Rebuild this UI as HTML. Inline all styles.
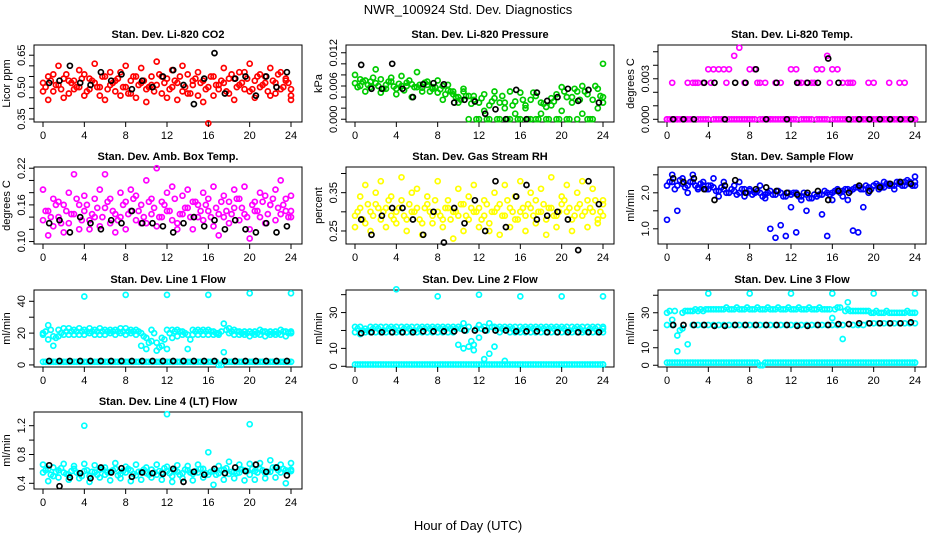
<!DOCTYPE html>
<html><head><meta charset="utf-8"><style>
html,body{margin:0;padding:0;background:#fff;}
svg{display:block;font-family:"Liberation Sans",sans-serif;}
</style></head><body>
<svg id="chart" width="936" height="540" xmlns="http://www.w3.org/2000/svg">
<text x="468" y="14" text-anchor="middle" font-size="13">NWR_100924 Std. Dev. Diagnostics</text>
<text x="468" y="530" text-anchor="middle" font-size="13">Hour of Day (UTC)</text>
</svg>
<script>
const xTicks=[0,4,8,12,16,20,24];
const co2A=[0.52,0.55,0.48,0.51,0.54,0.47,0.53,0.50,0.56,0.49,0.52,0.46,0.55,0.51,0.48,0.57,0.50,0.53,0.45,0.52,0.49,0.55,0.51,0.47,0.54,0.50,0.52,0.48,0.56,0.51,0.46,0.53,0.50,0.55,0.49,0.52,0.47,0.54,0.51,0.57,0.48,0.53,0.50,0.55,0.46,0.52,0.49,0.54,0.44];
const co2B=[0.48,0.44,0.56,0.60,0.45,0.53,0.49,0.58,0.46,0.54,0.61,0.50,0.44,0.57,0.53,0.46,0.60,0.47,0.55,0.59,0.43,0.51,0.62,0.55,0.45,0.58,0.44,0.60,0.47,0.53,0.57,0.43,0.33,0.46,0.51,0.59,0.54,0.44,0.57,0.49,0.61,0.45,0.56,0.52,0.59,0.47,0.57,0.53,0.46];
const co2C=[0.50,0.53,0.51,0.49,0.56,0.52,0.50,0.54,0.48,0.53,0.50,0.55,0.49,0.52,0.54,0.50,0.47,0.55,0.51,0.53,0.50,0.48,0.56,0.52,0.49,0.53,0.55,0.50,0.47,0.54,0.52,0.49,0.55,0.51,0.53,0.48,0.56,0.50,0.52,0.54,0.49,0.55,0.51,0.48,0.53,0.56,0.50,0.52,0.49];
const co2K=[0.52,0.53,0.60,0.52,0.51,0.57,0.53,0.56,0.49,0.53,0.50,0.55,0.58,0.51,0.42,0.54,0.66,0.47,0.54,0.55,0.46,0.55,0.50,0.57];
const prA=[0.0065,0.0060,0.0070,0.0058,0.0065,0.0072,0.0062,0.0068,0.0055,0.0060,0.0066,0.0063,0.0058,0.0057,0.0062,0.0055,0.0048,0.0060,0.0052,0.0045,0.0040,0.0050,0.0042,0.0035,0.0030,0.0045,0.0025,0.0038,0.0030,0.0020,0.0050,0.0032,0.0048,0.0025,0.0035,0.0042,0.0030,0.0022,0.0038,0.0045,0.0058,0.0040,0.0030,0.0050,0.0060,0.0045,0.0035,0.0055,0.0040];
const prB=[0.0080,0.0072,0.0050,0.0068,0.0090,0.0048,0.0055,0.0075,0.0045,0.0078,0.0060,0.0040,0.0085,0.0050,0.0068,0.0058,0.0070,0.0035,0.0062,0.0050,0.0030,0.0055,0.0000,0.0042,0.0000,0.0015,0.0000,0.0050,0.0000,0.0030,0.0000,0.0010,0.0000,0.0020,0.0000,0.0000,0.0010,0.0000,0.0025,0.0000,0.0015,0.0000,0.0040,0.0000,0.0010,0.0000,0.0000,0.0020,0.0100];
const prC=[0.0058,0.0068,0.0062,0.0075,0.0060,0.0055,0.0068,0.0059,0.0064,0.0052,0.0070,0.0058,0.0062,0.0066,0.0050,0.0058,0.0054,0.0045,0.0050,0.0040,0.0035,0.0042,0.0028,0.0000,0.0038,0.0000,0.0032,0.0000,0.0042,0.0000,0.0025,0.0000,0.0035,0.0000,0.0048,0.0000,0.0028,0.0000,0.0032,0.0000,0.0050,0.0000,0.0055,0.0035,0.0050,0.0000,0.0060,0.0042,0.0030];
const prK=[0.0098,0.0055,0.0055,0.0100,0.0055,0.0040,0.0063,0.0065,0.0063,0.0030,0.0035,0.0032,0.0010,0.0018,0.0000,0.0053,0.0000,0.0048,0.0033,0.0040,0.0055,0.0033,0.0053,0.0030];
const tmA=[0,0,0,0,0,0,0,0,0,0,0,0,0,0,0,0,0,0,0,0,0,0,0,0,0,0,0,0,0,0,0,0,0,0,0,0,0,0,0,0,0,0,0,0,0,0,0,0,0];
const tmB=[0,0.0027,0,0,0.0027,0.0027,0.0027,0.0027,0.0037,0.0037,0.0037,0.0037,0.0037,0.0047,0.0053,0.0027,0.0037,0.0037,0.0027,0.0027,0,0.0027,0.0027,0,0.0037,0.0037,0.0027,0.0027,0.0027,0.0037,0.0037,0.0047,0.0037,0.0037,0.0027,0.0027,0.0027,0,0,0.0027,0.0027,0,0,0.0027,0,0.0027,0.0027,0,0];
const tmC=[0,0,0,0,0,0.0027,0,0,0.0027,0,0,0.0027,0,0,0,0,0,0.0027,0,0,0,0,0,0,0,0.0027,0,0,0.0027,0,0,0.0027,0,0,0,0.0027,0,0,0,0,0,0,0,0,0,0,0,0,0];
const tmK=[0,0,0,0.0027,0.0027,0,0.0027,0.0027,0.0037,0,0.0027,0,0.0027,0.0027,0.0027,0.0045,0.0027,0,0,0,0,0,0,0];
const btA=[0.135,0.15,0.125,0.14,0.16,0.13,0.145,0.12,0.15,0.135,0.14,0.125,0.155,0.13,0.145,0.14,0.12,0.15,0.135,0.16,0.13,0.145,0.125,0.14,0.15,0.135,0.13,0.145,0.155,0.12,0.14,0.135,0.15,0.125,0.145,0.14,0.13,0.155,0.135,0.145,0.12,0.15,0.14,0.13,0.16,0.135,0.145,0.15,0.14];
const btB=[0.185,0.11,0.17,0.165,0.115,0.18,0.21,0.16,0.175,0.12,0.17,0.185,0.21,0.17,0.115,0.18,0.165,0.185,0.175,0.13,0.20,0.17,0.22,0.165,0.18,0.19,0.12,0.175,0.185,0.165,0.16,0.18,0.17,0.19,0.11,0.175,0.165,0.185,0.17,0.19,0.105,0.165,0.18,0.175,0.16,0.185,0.2,0.17,0.175];
const btC=[0.15,0.14,0.16,0.13,0.15,0.145,0.17,0.135,0.16,0.145,0.155,0.14,0.165,0.15,0.135,0.16,0.145,0.17,0.15,0.14,0.165,0.155,0.14,0.16,0.15,0.17,0.145,0.155,0.14,0.165,0.15,0.16,0.14,0.155,0.165,0.15,0.145,0.17,0.155,0.14,0.16,0.15,0.165,0.145,0.17,0.155,0.16,0.14,0.15];
const btK=[0.13,0.135,0.115,0.14,0.13,0.12,0.135,0.13,0.15,0.13,0.13,0.125,0.115,0.13,0.14,0.125,0.135,0.12,0.135,0.12,0.115,0.13,0.115,0.125];
const rhA=[0.29,0.31,0.27,0.30,0.32,0.28,0.31,0.29,0.30,0.33,0.28,0.30,0.31,0.27,0.32,0.29,0.30,0.28,0.31,0.30,0.29,0.32,0.28,0.30,0.31,0.29,0.27,0.30,0.32,0.29,0.31,0.28,0.30,0.29,0.31,0.33,0.30,0.28,0.31,0.29,0.32,0.30,0.28,0.31,0.29,0.33,0.30,0.28,0.32];
const rhB=[0.26,0.34,0.37,0.25,0.35,0.38,0.26,0.34,0.27,0.39,0.25,0.35,0.36,0.24,0.34,0.27,0.38,0.26,0.33,0.23,0.36,0.25,0.34,0.37,0.26,0.33,0.25,0.35,0.24,0.37,0.26,0.34,0.38,0.25,0.35,0.27,0.36,0.24,0.39,0.26,0.34,0.37,0.25,0.35,0.38,0.26,0.36,0.27,0.33];
const rhC=[0.30,0.28,0.32,0.29,0.31,0.30,0.33,0.28,0.31,0.29,0.32,0.30,0.28,0.31,0.30,0.33,0.29,0.31,0.28,0.30,0.32,0.29,0.31,0.30,0.28,0.32,0.30,0.31,0.29,0.33,0.30,0.28,0.31,0.32,0.29,0.30,0.32,0.31,0.29,0.30,0.33,0.31,0.29,0.32,0.30,0.31,0.33,0.30,0.29];
const rhK=[0.28,0.24,0.29,0.31,0.31,0.28,0.24,0.30,0.22,0.31,0.27,0.33,0.25,0.38,0.26,0.34,0.37,0.28,0.29,0.30,0.28,0.20,0.38,0.32];
const sfA=[2.2,2.3,2.2,2.25,2.2,2.3,2.15,2.2,2.1,2.15,2.05,2.1,2.0,2.05,2.0,2.1,2.05,2.0,2.0,1.95,2.05,1.95,2.0,1.9,1.95,2.0,1.9,1.95,1.85,1.9,1.95,2.0,2.0,2.05,2.05,2.1,2.1,2.15,2.1,2.15,2.2,2.2,2.15,2.25,2.2,2.25,2.3,2.25,2.2];
const sfB=[1.25,2.5,1.5,2.4,2.0,2.5,2.1,2.3,2.2,2.4,1.9,2.3,2.0,2.2,2.3,1.9,2.1,2.0,2.2,1.85,1.0,0.75,1.1,0.8,1.6,0.9,1.8,1.5,1.85,1.9,1.4,0.8,1.8,2.1,1.9,1.8,0.95,0.9,1.6,2.0,2.2,2.1,2.3,2.2,2.1,2.3,2.2,2.3,2.45];
const sfC=[2.3,2.1,2.35,2.15,2.3,2.2,2.25,2.1,2.2,2.05,2.15,2.0,2.1,1.95,2.1,2.0,1.95,2.05,1.9,2.0,1.95,2.05,1.9,2.0,2.0,1.9,2.0,1.85,1.95,1.95,2.05,1.95,2.05,2.0,2.1,2.05,2.15,2.1,2.2,2.1,2.25,2.15,2.25,2.2,2.3,2.2,2.35,2.2,2.3];
const sfK=[2.4,2.3,2.4,2.1,1.8,2.2,2.35,2.0,2.1,2.15,2.05,2.0,1.95,2.0,2.05,1.8,2.05,2.0,2.2,2.05,2.15,2.25,2.3,2.25];
const l1A=[20,25,18,22,23,23,22,23,22,23,22,23,22,22,22,23,23,22,22,12,10,22,14,12,22,22,22,21,10,22,22,22,22,21,20,26,23,22,21,21,21,21,22,21,21,21,22,21,21];
const l1B=[19,16,12,18,19,19,19,19,19,20,19,19,19,20,19,20,19,20,19,20,17,15,9,17,10,17,18,19,19,19,19,19,19,19,19,8,20,19,19,19,18,19,19,18,19,19,19,18,20];
const l1C=[21,22,17,20,21,21,21,21,21,21,21,21,21,21,21,21,21,21,21,18,14,20,11,16,20,21,21,20,16,21,21,21,21,20,21,22,21,21,20,20,20,20,21,20,20,20,21,20,20];
const l1L=[2,2,2,2,2,2,2,2,2,2,2,2,2,2,2,2,2,2,2,2,2,2,2,2,2,2,2,2,2,2,2,2,2,2,0,2,2,2,2,2,2,2,2,2,2,2,2,2,2];
const l1K=[2.5,2.5,2.5,2.5,2.5,2.5,2.5,2.5,2.5,2.5,2.5,2.5,2.5,2.5,2.5,2.5,2.5,2.5,2.5,2.5,2.5,2.5,2.5,2.5];
const peakHours=[4,8,12,16,20,24];
const l1P=[43,44,44,44,45,45];
const l2A=[22,22,21,22,22,22,22,22,22,22,22,22,22,22,22,22,22,22,22,22,22,24,22,12,23,22,24,22,22,22,22,22,22,22,22,22,22,22,22,22,22,22,22,22,22,22,22,22,22];
const l2B=[19,18,19,19,19,19,19,19,19,19,19,19,19,19,19,19,19,19,19,19,12,10,11,9,16,4,7,11,19,3,19,19,19,19,19,19,19,19,19,19,19,19,19,19,19,19,19,19,19];
const l2C=[21,20,20,21,21,20,21,21,20,21,21,20,21,21,21,21,21,21,21,21,21,20,14,21,21,20,22,21,21,21,21,20,21,21,21,21,21,21,21,21,21,20,21,21,20,21,21,20,21];
const l2L=[1,1,1,1,1,1,1,1,1,1,1,1,1,1,1,1,1,1,1,1,1,1,1,1,1,1,1,1,1,1,1,1,1,1,1,1,1,1,1,1,1,1,1,1,1,1,1,1,1];
const l2K=[18.5,19,19,19,19,19,19.5,19.5,19.5,19.5,20,20,20,20,20,19.5,19.5,19.5,19,19,19,19,19,19];
const l2P=[43,39,40,39,39,39];
const l3A=[30,26,8,30,31,31,31,31,32,32,32,32,32,32,32,32,32,32,32,32,32,32,32,32,32,32,32,32,32,32,32,32,27,33,15,32,31,31,31,31,30,30,30,30,30,30,30,30,30];
const l3B=[23,23,17,21,12,23,23,23,23,23,23,23,23,23,23,23,23,23,23,23,23,23,23,23,23,23,23,23,23,23,23,23,23,23,23,36,23,23,23,24,24,24,24,24,24,24,24,24,24];
const l3C=[31,31,20,31,31,32,32,32,32,32,32,33,32,33,32,33,32,33,32,33,32,33,32,33,32,33,32,33,32,33,32,32,32,33,31,31,31,31,31,30,31,30,31,30,30,30,31,30,30];
const l3L=[1.5,1.5,1.5,1.5,1.5,1.5,1.5,1.5,1.5,1.5,1.5,1.5,1.5,1.5,1.5,1.5,1.5,1.5,0,1.5,1.5,1.5,1.5,1.5,1.5,1.5,1.5,1.5,1.5,1.5,1.5,1.5,1.5,1.5,1.5,1.5,1.5,1.5,1.5,1.5,1.5,1.5,1.5,1.5,1.5,1.5,1.5,1.5,1.5];
const l3K=[23,23,23,23,22.5,22.5,23,23,23,23,23,23,22.5,22.5,23,23,23.5,23.5,24,24,24,24,24,24.5];
const l3P=[41,41,41,41,41,41];
const l4A=[0.55,0.60,0.50,0.58,0.55,0.52,0.60,0.54,0.57,0.50,0.55,0.59,0.52,0.56,0.60,0.53,0.55,0.58,0.51,0.56,0.54,0.59,0.52,0.55,0.57,0.50,0.56,0.54,0.58,0.53,0.55,0.60,0.52,0.57,0.54,0.59,0.53,0.56,0.55,0.58,0.52,0.57,0.60,0.54,0.56,0.62,0.55,0.58,0.57];
const l4B=[0.66,0.43,0.62,0.48,0.67,0.45,0.64,0.47,0.67,0.42,0.65,0.48,0.62,0.44,0.68,0.47,0.63,0.43,0.66,0.45,0.62,0.48,0.66,0.45,0.63,0.42,0.65,0.47,0.64,0.44,0.66,0.48,0.83,0.38,0.64,0.45,0.70,0.47,0.66,0.44,0.67,0.45,0.68,0.47,0.72,0.48,0.66,0.40,0.68];
const l4C=[0.58,0.52,0.56,0.61,0.53,0.57,0.55,0.50,0.58,0.56,0.52,0.60,0.55,0.58,0.51,0.57,0.60,0.53,0.56,0.59,0.52,0.55,0.57,0.61,0.54,0.58,0.52,0.59,0.55,0.57,0.60,0.54,0.56,0.52,0.58,0.61,0.56,0.54,0.59,0.57,0.60,0.55,0.58,0.56,0.62,0.58,0.60,0.56,0.59];
const l4K=[0.65,0.36,0.48,0.54,0.47,0.62,0.55,0.61,0.49,0.55,0.54,0.53,0.60,0.42,0.56,0.52,0.60,0.54,0.62,0.57,0.66,0.56,0.62,0.51];
const l4P=[1.20,1.36,1.22];
const l4PH=[4,12,20];

const H=[];for(let i=0;i<49;i++)H.push(i*0.5);
const H2=[];for(let i=0;i<49;i++)H2.push(Math.min(24,i*0.5+0.25));
const HK=[];for(let i=0;i<24;i++)HK.push(i+0.6);

const NS='http://www.w3.org/2000/svg';
const svg=document.getElementById('chart');
function mk(tag,attrs,parent){const e=document.createElementNS(NS,tag);for(const k in attrs)e.setAttribute(k,attrs[k]);(parent||svg).appendChild(e);return e;}

const rowTop=[45,167,290,412];
const BW=268,BH=77;
function panel(p){
  const L=34+312*p.col, T=rowTop[p.row], B=T+BH;
  const g=mk('g',{});
  
  
  const xs=h=>L+9+h*(248/24);
  const ys=v=>T+(p.top-v)/(p.top-p.bot)*BH;
  const t=mk('text',{x:L+BW/2,y:T-7,'text-anchor':'middle','font-size':'11','font-weight':'bold'},g);
  t.textContent=p.title;
  
  
  const r=mk('rect',{x:L,y:T,width:BW,height:BH,fill:'none',stroke:'#000','stroke-width':1},g);
  
  
  p.series.forEach(s=>{
    s.v.forEach((v,i)=>{
      const c=mk('circle',{cx:xs(s.h[i]).toFixed(1),cy:ys(v).toFixed(1),r:2.5,fill:'none',stroke:s.c,'stroke-width':1.7},g);
      
      
    });
  });
  xTicks.forEach(h=>{
    const x=xs(h);
    mk('line',{x1:x,x2:x,y1:B,y2:B+5,stroke:'#000'},g);
    const tl=mk('text',{x:x,y:B+17,'text-anchor':'middle','font-size':'11'},g);
    tl.textContent=h;
    
    
  });
  p.ticks.forEach(v=>{const y=ys(v);mk('line',{x1:L-5,x2:L,y1:y,y2:y,stroke:'#000'},g);});
  p.labels.forEach(v=>{
    const y=ys(v);const lx=L-9;
    const tl=mk('text',{x:lx,y:y,'text-anchor':'middle','font-size':'11',transform:`rotate(-90 ${lx} ${y})`},g);
    tl.textContent=p.fmt(v);
    
    
  });
  const yl=L-24, ym=T+BH/2;
  const at=mk('text',{x:yl,y:ym,'text-anchor':'middle','font-size':'11',transform:`rotate(-90 ${yl} ${ym})`},g);
  at.textContent=p.ylab;
  
  
}
const f2=v=>v.toFixed(2),f3=v=>v.toFixed(3),f1=v=>v.toFixed(1),f0=v=>v.toFixed(0);
const K='#000',R='#ff0000',G='#00cc00',M='#ff00ff',Y='#ffff00',BL='#0000ff',C='#00ffff';
panel({name:'panel-co2',col:0,row:0,title:'Stan. Dev. Li-820 CO2',ylab:'Licor ppm',top:0.698,bot:0.336,ticks:[0.35,0.40,0.45,0.50,0.55,0.60,0.65],labels:[0.35,0.50,0.65],fmt:f2,
 series:[{h:H,v:co2A,c:R},{h:H,v:co2B,c:R},{h:H2,v:co2C,c:R},{h:HK,v:co2K,c:K}]});
panel({name:'panel-pressure',col:1,row:0,title:'Stan. Dev. Li-820 Pressure',ylab:'kPa',top:0.0134,bot:-0.0005,ticks:[0,0.002,0.004,0.006,0.008,0.010,0.012],labels:[0,0.006,0.012],fmt:f3,
 series:[{h:H,v:prA,c:G},{h:H,v:prB,c:G},{h:H2,v:prC,c:G},{h:HK,v:prK,c:K}]});
panel({name:'panel-temp',col:2,row:0,title:'Stan. Dev. Li-820 Temp.',ylab:'degrees C',top:0.0055,bot:-0.0002,ticks:[0,0.001,0.002,0.003,0.004,0.005],labels:[0,0.003],fmt:f3,
 series:[{h:H,v:tmA,c:M},{h:H,v:tmB,c:M},{h:H2,v:tmC,c:M},{h:HK,v:tmK,c:K}]});
panel({name:'panel-box-temp',col:0,row:1,title:'Stan. Dev. Amb. Box Temp.',ylab:'degrees C',top:0.222,bot:0.096,ticks:[0.10,0.12,0.14,0.16,0.18,0.20,0.22],labels:[0.10,0.16,0.22],fmt:f2,
 series:[{h:H,v:btA,c:M},{h:H,v:btB,c:M},{h:H2,v:btC,c:M},{h:HK,v:btK,c:K}]});
panel({name:'panel-rh',col:1,row:1,title:'Stan. Dev. Gas Stream RH',ylab:'percent',top:0.417,bot:0.216,ticks:[0.25,0.30,0.35,0.40],labels:[0.25,0.35],fmt:f2,
 series:[{h:H,v:rhA,c:Y},{h:H,v:rhB,c:Y},{h:H2,v:rhC,c:Y},{h:HK,v:rhK,c:K}]});
panel({name:'panel-sample-flow',col:2,row:1,title:'Stan. Dev. Sample Flow',ylab:'ml/min',top:2.717,bot:0.578,ticks:[1.0,1.5,2.0,2.5],labels:[1.0,2.0],fmt:f1,
 series:[{h:H,v:sfA,c:BL},{h:H,v:sfB,c:BL},{h:H2,v:sfC,c:BL},{h:HK,v:sfK,c:K}]});
panel({name:'panel-line1',col:0,row:2,title:'Stan. Dev. Line 1 Flow',ylab:'ml/min',top:47.1,bot:-1.3,ticks:[0,10,20,30,40],labels:[0,20,40],fmt:f0,
 series:[{h:H,v:l1A,c:C},{h:H,v:l1B,c:C},{h:H2,v:l1C,c:C},{h:H,v:l1L,c:C},{h:H2,v:l1L,c:C},{h:peakHours,v:l1P,c:C},{h:HK,v:l1K,c:K}]});
panel({name:'panel-line2',col:1,row:2,title:'Stan. Dev. Line 2 Flow',ylab:'ml/min',top:42.6,bot:-0.4,ticks:[0,10,20,30,40],labels:[0,10,30],fmt:f0,
 series:[{h:H,v:l2A,c:C},{h:H,v:l2B,c:C},{h:H2,v:l2C,c:C},{h:H,v:l2L,c:C},{h:H2,v:l2L,c:C},{h:peakHours,v:l2P,c:C},{h:HK,v:l2K,c:K}]});
panel({name:'panel-line3',col:2,row:2,title:'Stan. Dev. Line 3 Flow',ylab:'ml/min',top:43,bot:-1,ticks:[0,10,20,30,40],labels:[0,10,30],fmt:f0,
 series:[{h:H,v:l3A,c:C},{h:H,v:l3B,c:C},{h:H2,v:l3C,c:C},{h:H,v:l3L,c:C},{h:H2,v:l3L,c:C},{h:peakHours,v:l3P,c:C},{h:HK,v:l3K,c:K}]});
panel({name:'panel-line4',col:0,row:3,title:'Stan. Dev. Line 4 (LT) Flow',ylab:'ml/min',top:1.39,bot:0.321,ticks:[0.4,0.6,0.8,1.0,1.2],labels:[0.4,0.8,1.2],fmt:f1,
 series:[{h:H,v:l4A,c:C},{h:H,v:l4B,c:C},{h:H2,v:l4C,c:C},{h:l4PH,v:l4P,c:C},{h:HK,v:l4K,c:K}]});
</script>
</body></html>
